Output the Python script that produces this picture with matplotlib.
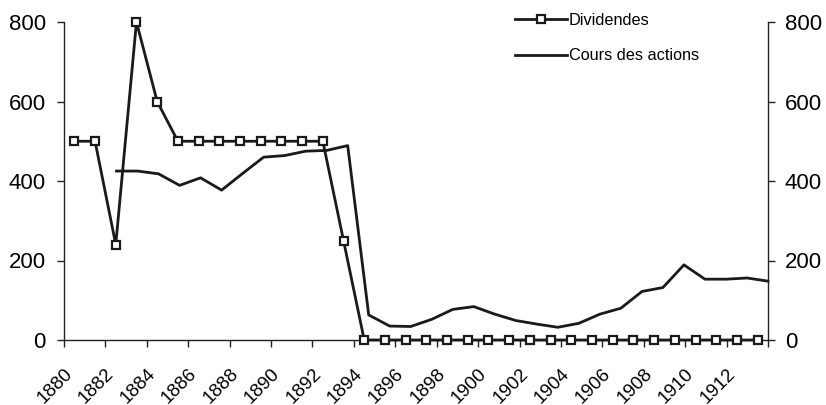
import matplotlib
matplotlib.use("Agg")
import matplotlib.pyplot as plt
import numpy as np

plt.rcParams['font.family'] = ['Liberation Sans', 'DejaVu Sans']

# %% Data
years = list(range(1880, 1914))
dividendes = [500, 500, 240, 800, 600, 500, 500, 500, 500, 500, 500, 500, 500, 250,
              0, 0, 0, 0, 0, 0, 0, 0, 0, 0, 0, 0, 0, 0, 0, 0, 0, 0, 0, 0]
cours_years = list(range(1882, 1914))
cours = [425, 425, 418, 389, 408, 377, 419, 460, 464, 475, 477, 489,
         63, 35, 34, 52, 77, 84, 65, 49, 40, 32, 42, 65, 80, 122, 132, 189, 153, 153, 156, 148]
label_years = list(range(1880, 1913, 2))
y_ticks = [0, 200, 400, 600, 800]

# %% Figure
fig = plt.figure(figsize=(8.26, 4.05), dpi=100)
rect = [64 / 826, 1 - 340 / 405, (768 - 64) / 826, (340 - 22) / 405]
ax = fig.add_axes(rect)
ax2 = fig.add_axes(rect, label="secondary")
ax2.patch.set_visible(False)

axis_col = "#222222"

# Dividendes on primary axis
ax.plot(years, dividendes, color="#1a1a1a", lw=2.0, marker="s", ms=6.2,
        mfc="white", mec="#1a1a1a", mew=1.6, label="Dividendes", zorder=3, clip_on=False)
ax.set_xlim(1879.5, 1913.5)
ax.set_ylim(0, 800)
ax.set_yticks(y_ticks)
ax.set_xticks([y - 0.5 for y in label_years] + [1913.5])
ax.set_xticklabels([str(y) for y in label_years] + [""], rotation=45,
                   ha="right", va="top", rotation_mode="anchor")
ax.tick_params(axis="x", length=5, width=1, color=axis_col, labelsize=13.5, pad=13)
ax.tick_params(axis="y", length=5, width=1, color=axis_col, labelsize=16, pad=8)
for s in ["top", "right"]:
    ax.spines[s].set_visible(False)
for s in ["left", "bottom"]:
    ax.spines[s].set_color(axis_col)
    ax.spines[s].set_linewidth(1)

# Cours des actions on secondary axis
ax2.plot(cours_years, cours, color="#1a1a1a", lw=2.0, label="Cours des actions", clip_on=False)
ax2.set_xlim(1879.5, 1913)
ax2.set_ylim(0, 800)
ax2.set_yticks(y_ticks)
ax2.yaxis.tick_right()
ax2.xaxis.set_visible(False)
ax2.tick_params(axis="y", length=5, width=1, color=axis_col, labelsize=16, pad=7)
for s in ["top", "left", "bottom"]:
    ax2.spines[s].set_visible(False)
ax2.spines["right"].set_color(axis_col)
ax2.spines["right"].set_linewidth(1)

# Legend
h1, l1 = ax.get_legend_handles_labels()
h2, l2 = ax2.get_legend_handles_labels()
fig.legend(h1 + h2, l1 + l2, loc="upper left", bbox_to_anchor=(515 / 826, 1 - 13 / 405),
           frameon=False, fontsize=11.7, handlelength=3.2, handletextpad=0.12,
           labelspacing=1.25, borderpad=0, borderaxespad=0)

fig.savefig("out.png", dpi=100)
